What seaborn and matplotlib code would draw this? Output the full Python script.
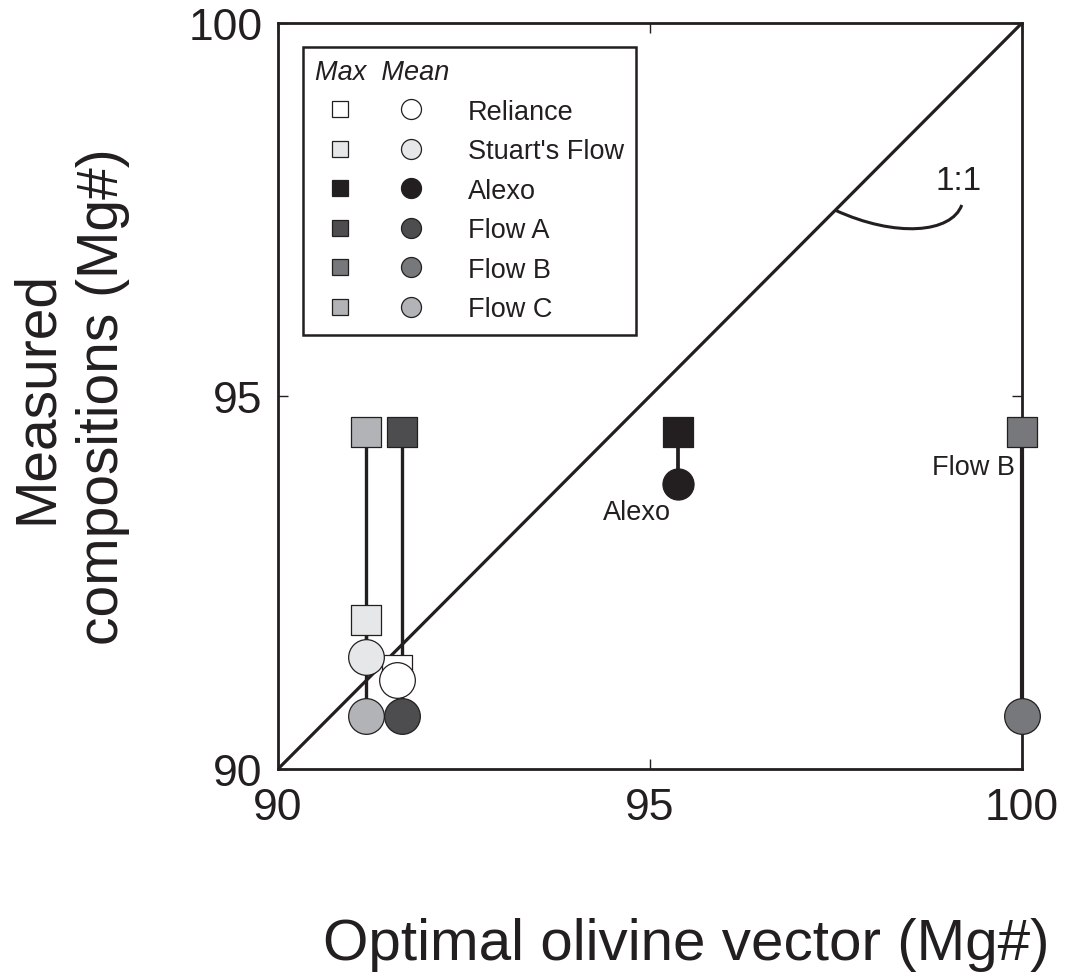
import matplotlib
matplotlib.use("Agg")
import matplotlib.pyplot as plt
from matplotlib.path import Path
from matplotlib.patches import PathPatch
from matplotlib.legend_handler import HandlerTuple
from matplotlib.lines import Line2D
import seaborn as sns
import pandas as pd

# ---------------- data ----------------
groups = ["Reliance", "Stuart's Flow", "Alexo", "Flow A", "Flow B", "Flow C"]
optimal_x = [91.60, 91.18, 95.38, 91.67, 100.0, 91.18]
max_mg = [91.33, 92.00, 94.52, 94.52, 94.52, 94.52]
mean_mg = [91.19, 91.50, 93.82, 90.71, 90.71, 90.71]
colors = ["#ffffff", "#e6e7e8", "#231f20", "#4d4d4f", "#77787b", "#b1b3b6"]

connected = ["Stuart's Flow", "Alexo", "Flow A", "Flow B", "Flow C"]

x_ticks = [90, 95, 100]
y_ticks = [90, 95, 100]

one_to_one = [90, 100]
leader_x = [97.49, 98.30, 99.05, 99.19]
leader_y = [97.49, 97.12, 97.18, 97.56]

labels_text = ["Alexo", "Flow B", "1:1"]
labels_x = [94.83, 99.90, 99.15]
labels_y = [93.45, 94.05, 97.89]

df = pd.DataFrame({"group": groups, "x": optimal_x, "max": max_mg, "mean": mean_mg})
palette = dict(zip(groups, colors))

# ---------------- style ----------------
sns.set_style("ticks")
plt.rcParams["font.family"] = ["Liberation Sans", "DejaVu Sans"]
INK = "#231f20"

fig = plt.figure(figsize=(10.73, 9.78), dpi=100)
ax = fig.add_axes([0.2591, 0.2127, 0.6934, 0.7628])

# 1:1 line
ax.plot(one_to_one, one_to_one, color=INK, lw=2.3, zorder=1, solid_capstyle="butt")

# connectors
lw_map = {"Stuart's Flow": 2.4, "Alexo": 2.7, "Flow A": 2.4, "Flow B": 3.0, "Flow C": 2.4}
for g in connected:
    r = df[df.group == g].iloc[0]
    ax.plot([r.x, r.x], [r["max"], r["mean"]], color=INK, lw=lw_map[g], zorder=2,
            solid_capstyle="butt", clip_on=False)

# markers: draw per group so mean circle sits on its own max square
circle_size = {"Alexo": 500}
for g in ["Flow C", "Flow A", "Stuart's Flow", "Flow B", "Alexo", "Reliance"]:
    sub = df[df.group == g]
    sns.scatterplot(data=sub, x="x", y="max", hue="group", palette=palette, marker="s",
                    s=440, edgecolor=INK, linewidth=0.9, legend=False, ax=ax, zorder=3,
                    clip_on=False)
    sns.scatterplot(data=sub, x="x", y="mean", hue="group", palette=palette, marker="o",
                    s=circle_size.get(g, 660), edgecolor=INK, linewidth=0.9, legend=False,
                    ax=ax, zorder=4, clip_on=False)

# leader curve for 1:1
verts = list(zip(leader_x, leader_y))
path = Path(verts, [Path.MOVETO, Path.CURVE4, Path.CURVE4, Path.CURVE4])
ax.add_patch(PathPatch(path, fill=False, edgecolor=INK, lw=2.2, zorder=2))

# labels
ax.text(labels_x[0], labels_y[0], labels_text[0], fontsize=19.5, ha="center", va="center", color=INK)
ax.text(labels_x[1], labels_y[1], labels_text[1], fontsize=19.5, ha="right", va="center", color=INK)
ax.text(labels_x[2], labels_y[2], labels_text[2], fontsize=24, ha="center", va="center", color=INK)

# axes styling
ax.set_xlim(90, 100)
ax.set_ylim(90, 100)
ax.set_xticks(x_ticks)
ax.set_yticks(y_ticks)
ax.set_xticklabels([str(t) for t in x_ticks])
ax.set_yticklabels([str(t) for t in y_ticks])
ax.tick_params(direction="in", length=7, width=1.0, colors=INK, labelsize=32,
               top=True, right=True)
ax.tick_params(axis="x", pad=13)
ax.tick_params(axis="y", pad=11)
for sp in ax.spines.values():
    sp.set_visible(True)
    sp.set_linewidth(2.0)
    sp.set_color(INK)
    sp.set_zorder(2.5)
ax.set_xlabel("")
ax.set_ylabel("")

# legend
handles = []
for g in groups:
    sq = Line2D([], [], marker="s", linestyle="none", markersize=12.2,
                markerfacecolor=palette[g], markeredgecolor=INK, markeredgewidth=0.9)
    ci = Line2D([], [], marker="o", linestyle="none", markersize=14.4,
                markerfacecolor=palette[g], markeredgecolor=INK, markeredgewidth=0.9)
    handles.append((sq, ci))
leg = ax.legend(handles, groups, handler_map={tuple: HandlerTuple(ndivide=None, pad=0.78)},
                loc="upper left", bbox_to_anchor=(0.0336, 0.9678), borderaxespad=0,
                fontsize=19.5, title="Max  Mean",
                title_fontproperties={"style": "italic", "size": 19.5},
                alignment="left", handlelength=4.48, handletextpad=1.15,
                borderpad=0.45, labelspacing=0.5, frameon=True, fancybox=False,
                framealpha=1, edgecolor=INK)
leg.get_frame().set_linewidth(1.8)
for t in leg.get_texts():
    t.set_color(INK)
leg.get_title().set_color(INK)

# axis titles
fig.text(70 / 1073, 1 - 397 / 978, "Measured\ncompositions (Mg#)", rotation=90,
         ha="center", va="center", multialignment="center", fontsize=41,
         linespacing=1.3, color=INK)
fig.text(686 / 1073, 1 - 945 / 978, "Optimal olivine vector (Mg#)", ha="center",
         va="center", fontsize=42, color=INK)

fig.savefig("out.png", dpi=100, facecolor="white")
